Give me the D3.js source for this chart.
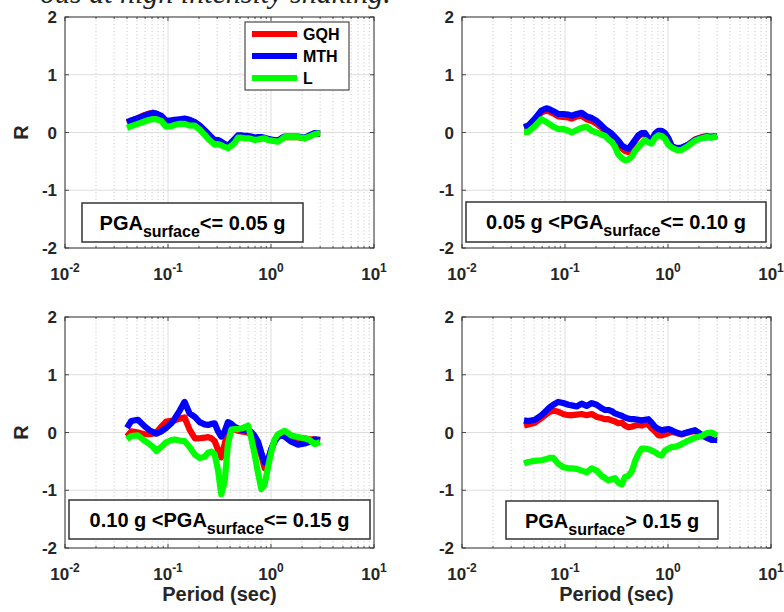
<!DOCTYPE html>
<html>
<head>
<meta charset="utf-8">
<script src="https://cdn.jsdelivr.net/npm/d3@7"></script>
<style>
  html, body { margin: 0; padding: 0; background: #fff; }
  svg { display: block; }
</style>
</head>
<body>
<svg id="chart" width="784" height="612" style="font-family: 'Liberation Sans', Arial, sans-serif;"></svg>
<script>
// ---------------- DATA ----------------
const periods = [0.04, 0.044, 0.051, 0.059, 0.066, 0.0715, 0.077, 0.086, 0.096, 0.108, 0.116, 0.13, 0.145, 0.162, 0.182, 0.203, 0.227, 0.245, 0.264, 0.284, 0.306, 0.329, 0.355, 0.382, 0.412, 0.444, 0.478, 0.515, 0.555, 0.598, 0.644, 0.694, 0.748, 0.806, 0.868, 0.935, 1.007, 1.085, 1.169, 1.26, 1.357, 1.576, 1.83, 2.12, 2.37, 2.65, 3.0];

const seriesNames = ["GQH", "MTH", "L"];
const seriesColors = ["#ff0000", "#0000ff", "#00ff00"];

// Panel 1: PGA_surface <= 0.05 g
const p1_GQH = [0.17, 0.20, 0.25, 0.30, 0.33, 0.34, 0.32, 0.28, 0.19, 0.20, 0.21, 0.22, 0.23, 0.21, 0.17, 0.11, 0.03, -0.03, -0.09, -0.14, -0.14, -0.17, -0.21, -0.24, -0.18, -0.12, -0.06, -0.06, -0.07, -0.07, -0.08, -0.10, -0.09, -0.09, -0.10, -0.12, -0.13, -0.14, -0.15, -0.11, -0.08, -0.08, -0.08, -0.10, -0.06, -0.02, -0.02];
const p1_MTH = [0.18, 0.21, 0.25, 0.29, 0.32, 0.34, 0.33, 0.29, 0.20, 0.21, 0.22, 0.23, 0.24, 0.22, 0.18, 0.12, 0.04, -0.02, -0.08, -0.13, -0.13, -0.16, -0.20, -0.23, -0.17, -0.11, -0.05, -0.05, -0.06, -0.06, -0.07, -0.09, -0.08, -0.08, -0.09, -0.11, -0.12, -0.13, -0.14, -0.10, -0.07, -0.07, -0.07, -0.09, -0.05, -0.01, -0.02];
const p1_L   = [0.08, 0.11, 0.15, 0.19, 0.22, 0.23, 0.23, 0.20, 0.10, 0.11, 0.13, 0.15, 0.15, 0.12, 0.12, 0.05, -0.04, -0.11, -0.16, -0.21, -0.20, -0.22, -0.25, -0.27, -0.23, -0.18, -0.09, -0.09, -0.10, -0.10, -0.11, -0.13, -0.12, -0.11, -0.10, -0.13, -0.14, -0.15, -0.16, -0.12, -0.08, -0.08, -0.08, -0.10, -0.07, -0.03, -0.01];

// Panel 2: 0.05 g < PGA_surface <= 0.10 g
const p2_GQH = [0.10, 0.11, 0.22, 0.35, 0.38, 0.36, 0.33, 0.28, 0.27, 0.26, 0.24, 0.28, 0.29, 0.23, 0.20, 0.15, 0.08, 0.02, -0.03, -0.07, -0.12, -0.18, -0.27, -0.32, -0.34, -0.25, -0.15, -0.07, -0.03, -0.03, -0.12, -0.14, -0.04, 0.01, 0.02, -0.02, -0.11, -0.24, -0.27, -0.28, -0.27, -0.21, -0.12, -0.08, -0.06, -0.07, -0.06];
const p2_MTH = [0.09, 0.12, 0.24, 0.38, 0.42, 0.40, 0.37, 0.32, 0.32, 0.31, 0.29, 0.32, 0.34, 0.28, 0.25, 0.20, 0.12, 0.06, 0.02, -0.02, -0.08, -0.14, -0.22, -0.26, -0.28, -0.21, -0.13, -0.05, -0.01, -0.01, -0.10, -0.13, -0.02, 0.03, 0.03, -0.01, -0.10, -0.23, -0.26, -0.27, -0.26, -0.21, -0.13, -0.09, -0.08, -0.08, -0.06];
const p2_L   = [0.01, 0.01, 0.11, 0.23, 0.18, 0.14, 0.10, 0.06, 0.06, 0.03, 0.00, 0.04, 0.08, 0.10, 0.03, 0.00, -0.04, -0.06, -0.12, -0.16, -0.25, -0.38, -0.44, -0.48, -0.47, -0.42, -0.32, -0.25, -0.19, -0.13, -0.17, -0.19, -0.09, -0.05, -0.06, -0.11, -0.21, -0.26, -0.29, -0.31, -0.30, -0.23, -0.14, -0.10, -0.08, -0.09, -0.06];

// Panel 3: 0.10 g < PGA_surface <= 0.15 g
const p3_GQH = [-0.07, 0.02, 0.00, -0.03, -0.03, -0.02, 0.00, 0.10, 0.19, 0.20, 0.21, 0.24, 0.26, 0.05, -0.10, -0.10, -0.09, -0.08, -0.10, -0.15, -0.30, -0.43, -0.20, 0.05, 0.06, 0.05, 0.03, 0.02, 0.01, 0.00, -0.04, -0.10, -0.22, -0.40, -0.62, -0.50, -0.30, -0.15, -0.05, -0.02, -0.04, -0.12, -0.12, -0.10, -0.12, -0.12, -0.13];
const p3_MTH = [0.08, 0.20, 0.22, 0.11, 0.04, 0.01, -0.02, 0.02, 0.08, 0.16, 0.24, 0.38, 0.53, 0.33, 0.27, 0.18, 0.14, 0.13, 0.15, 0.16, 0.02, -0.07, 0.02, 0.18, 0.15, 0.10, 0.07, 0.05, 0.04, 0.03, 0.01, -0.06, -0.16, -0.35, -0.52, -0.48, -0.28, -0.15, -0.08, -0.05, -0.07, -0.16, -0.21, -0.19, -0.16, -0.12, -0.13];
const p3_L   = [-0.12, -0.06, -0.05, -0.14, -0.20, -0.25, -0.32, -0.25, -0.17, -0.13, -0.12, -0.14, -0.15, -0.25, -0.38, -0.44, -0.42, -0.35, -0.33, -0.38, -0.65, -1.07, -0.85, -0.20, 0.05, 0.06, 0.06, 0.07, 0.09, 0.12, -0.10, -0.38, -0.70, -0.98, -0.90, -0.60, -0.33, -0.12, -0.03, 0.00, 0.03, -0.05, -0.08, -0.10, -0.13, -0.20, -0.17];

// Panel 4: PGA_surface > 0.15 g
const p4_GQH = [0.12, 0.14, 0.17, 0.25, 0.32, 0.36, 0.38, 0.36, 0.32, 0.30, 0.30, 0.31, 0.32, 0.30, 0.32, 0.27, 0.25, 0.23, 0.23, 0.21, 0.19, 0.16, 0.17, 0.12, 0.09, 0.10, 0.12, 0.13, 0.12, 0.14, 0.14, 0.07, 0.02, -0.05, -0.05, -0.03, -0.01, 0.01, 0.00, -0.02, -0.03, 0.00, 0.03, -0.04, -0.08, -0.12, -0.13];
const p4_MTH = [0.21, 0.20, 0.22, 0.30, 0.38, 0.44, 0.48, 0.53, 0.51, 0.48, 0.47, 0.45, 0.50, 0.46, 0.51, 0.48, 0.42, 0.39, 0.39, 0.37, 0.33, 0.31, 0.29, 0.26, 0.24, 0.23, 0.23, 0.22, 0.21, 0.22, 0.23, 0.17, 0.10, 0.06, 0.04, 0.05, 0.06, 0.04, 0.01, -0.01, -0.03, 0.01, 0.04, -0.04, -0.09, -0.13, -0.13];
const p4_L   = [-0.54, -0.51, -0.49, -0.48, -0.46, -0.44, -0.44, -0.54, -0.60, -0.62, -0.62, -0.63, -0.66, -0.69, -0.62, -0.66, -0.75, -0.79, -0.83, -0.81, -0.79, -0.87, -0.90, -0.77, -0.75, -0.68, -0.50, -0.37, -0.28, -0.28, -0.29, -0.31, -0.34, -0.38, -0.40, -0.31, -0.28, -0.25, -0.25, -0.23, -0.20, -0.14, -0.09, -0.06, -0.01, 0.00, -0.05];

const panelData = [
  [p1_GQH, p1_MTH, p1_L],
  [p2_GQH, p2_MTH, p2_L],
  [p3_GQH, p3_MTH, p3_L],
  [p4_GQH, p4_MTH, p4_L]
];

// annotation labels: [prefix, subscript, suffix]
const panelLabels = [
  ["PGA", "surface", "<= 0.05 g"],
  ["0.05 g <PGA", "surface", "<= 0.10 g"],
  ["0.10 g <PGA", "surface", "<= 0.15 g"],
  ["PGA", "surface", "> 0.15 g"]
];

const yTicks = [2, 1, 0, -1, -2];
const yTickLabels = ["2", "1", "0", "-1", "-2"];
const xTickExponents = [-2, -1, 0, 1];
const xLabel = "Period (sec)";
const yLabel = "R";
const captionText = "ous at high intensity shaking.";

// ---------------- LAYOUT ----------------
const svg = d3.select("#chart");
const axisColor = "#262626";

const panels = [
  { x0: 65,  x1: 374, y0: 17,  y1: 248, box: [82, 203, 221, 39],  legend: true,  ylab: true,  xlab: false },
  { x0: 462, x1: 771, y0: 17,  y1: 248, box: [466, 202, 300, 40], legend: false, ylab: false, xlab: false },
  { x0: 65,  x1: 374, y0: 317, y1: 548, box: [69, 500, 301, 39],  legend: false, ylab: true,  xlab: true },
  { x0: 462, x1: 771, y0: 317, y1: 548, box: [506, 501, 212, 38], legend: false, ylab: false, xlab: true }
];

// caption (cropped at the top of the picture, as in the reference)
svg.append("text")
  .attr("x", 40).attr("y", 3)
  .style("font-family", "'Liberation Serif', 'Times New Roman', serif")
  .style("font-style", "italic")
  .style("font-size", "30px")
  .attr("fill", "#222")
  .text(captionText);

panels.forEach((p, pi) => {
  const x = d3.scaleLog().domain([0.01, 10]).range([p.x0, p.x1]);
  const y = d3.scaleLinear().domain([-2, 2]).range([p.y1, p.y0]);
  const g = svg.append("g");

  g.append("rect").attr("x", p.x0).attr("y", p.y0)
    .attr("width", p.x1 - p.x0).attr("height", p.y1 - p.y0).attr("fill", "#fff");

  const minorVals = [];
  const majorVals = [];
  xTickExponents.forEach(e => {
    majorVals.push(Math.pow(10, e));
    if (e < 1) for (let k = 2; k <= 9; k++) minorVals.push(k * Math.pow(10, e));
  });
  // minor grid (dotted)
  g.selectAll(".minorgrid").data(minorVals).enter().append("line")
    .attr("x1", d => x(d)).attr("x2", d => x(d))
    .attr("y1", p.y0).attr("y2", p.y1)
    .attr("stroke", "#b8b8b8").attr("stroke-width", 0.8)
    .attr("stroke-dasharray", "1,2.5");
  // major grid
  g.selectAll(".majorgrid").data(majorVals.slice(1, -1)).enter().append("line")
    .attr("x1", d => x(d)).attr("x2", d => x(d))
    .attr("y1", p.y0).attr("y2", p.y1)
    .attr("stroke", "#dedede").attr("stroke-width", 1);
  g.selectAll(".hgrid").data(yTicks.slice(1, -1)).enter().append("line")
    .attr("x1", p.x0).attr("x2", p.x1)
    .attr("y1", d => y(d)).attr("y2", d => y(d))
    .attr("stroke", "#dedede").attr("stroke-width", 1);

  // data lines
  const line = d3.line().x((d, i) => x(periods[i])).y(d => y(d));
  panelData[pi].forEach((vals, si) => {
    g.append("path").datum(vals)
      .attr("d", line)
      .attr("fill", "none")
      .attr("stroke", seriesColors[si])
      .attr("stroke-width", 6.2)
      .attr("stroke-linejoin", "round")
      .attr("stroke-linecap", "butt");
  });

  // ticks (inward, all four sides)
  const tickG = g.append("g").attr("stroke", axisColor).attr("stroke-width", 0.8);
  majorVals.forEach(v => {
    tickG.append("line").attr("x1", x(v)).attr("x2", x(v)).attr("y1", p.y1).attr("y2", p.y1 - 4);
    tickG.append("line").attr("x1", x(v)).attr("x2", x(v)).attr("y1", p.y0).attr("y2", p.y0 + 4);
  });
  minorVals.forEach(v => {
    tickG.append("line").attr("x1", x(v)).attr("x2", x(v)).attr("y1", p.y1).attr("y2", p.y1 - 2);
    tickG.append("line").attr("x1", x(v)).attr("x2", x(v)).attr("y1", p.y0).attr("y2", p.y0 + 2);
  });
  yTicks.forEach(v => {
    tickG.append("line").attr("x1", p.x0).attr("x2", p.x0 + 4).attr("y1", y(v)).attr("y2", y(v));
    tickG.append("line").attr("x1", p.x1).attr("x2", p.x1 - 4).attr("y1", y(v)).attr("y2", y(v));
  });

  // axes box
  g.append("rect").attr("x", p.x0).attr("y", p.y0)
    .attr("width", p.x1 - p.x0).attr("height", p.y1 - p.y0)
    .attr("fill", "none").attr("stroke", axisColor).attr("stroke-width", 1);

  // y tick labels
  yTicks.forEach((v, i) => {
    g.append("text").attr("x", p.x0 - 8).attr("y", y(v) + 6)
      .attr("text-anchor", "end").attr("font-size", 17).attr("font-weight", "bold")
      .attr("fill", axisColor).text(yTickLabels[i]);
  });
  // x tick labels 10^e
  xTickExponents.forEach(e => {
    const t = g.append("text").attr("x", x(Math.pow(10, e))).attr("y", p.y1 + 32)
      .attr("text-anchor", "middle").attr("font-size", 17).attr("font-weight", "bold")
      .attr("fill", axisColor);
    t.append("tspan").text("10");
    t.append("tspan").attr("dy", -8).attr("font-size", 12).text(String(e));
  });

  if (p.ylab) {
    g.append("text")
      .attr("transform", `translate(28,${(p.y0 + p.y1) / 2}) rotate(-90)`)
      .attr("text-anchor", "middle").attr("font-size", 20).attr("font-weight", "bold")
      .attr("fill", axisColor).text(yLabel);
  }
  if (p.xlab) {
    g.append("text").attr("x", (p.x0 + p.x1) / 2).attr("y", 601)
      .attr("text-anchor", "middle").attr("font-size", 20).attr("font-weight", "bold")
      .attr("fill", axisColor).text(xLabel);
  }

  // annotation box
  const [bx, by, bw, bh] = p.box;
  g.append("rect").attr("x", bx).attr("y", by).attr("width", bw).attr("height", bh)
    .attr("fill", "#fff").attr("stroke", "#333").attr("stroke-width", 1.5);
  const lab = panelLabels[pi];
  const at = g.append("text").attr("x", bx + bw / 2).attr("y", by + 27)
    .attr("text-anchor", "middle").attr("font-size", 20).attr("font-weight", "bold")
    .attr("fill", "#000");
  at.append("tspan").text(lab[0]);
  at.append("tspan").attr("dy", 7).attr("font-size", 16).text(lab[1]);
  at.append("tspan").attr("dy", -7).attr("font-size", 20).text(lab[2]);

  // legend
  if (p.legend) {
    const lg = g.append("g");
    lg.append("rect").attr("x", 245).attr("y", 22).attr("width", 104).attr("height", 68)
      .attr("fill", "#fff").attr("stroke", axisColor).attr("stroke-width", 1);
    seriesNames.forEach((name, si) => {
      const ly = 34 + si * 22;
      lg.append("line").attr("x1", 252).attr("x2", 297).attr("y1", ly).attr("y2", ly)
        .attr("stroke", seriesColors[si]).attr("stroke-width", 6.2);
      lg.append("text").attr("x", 303).attr("y", ly + 6)
        .attr("font-size", 16).attr("font-weight", "bold").attr("fill", "#000").text(name);
    });
  }
});
</script>
</body>
</html>
